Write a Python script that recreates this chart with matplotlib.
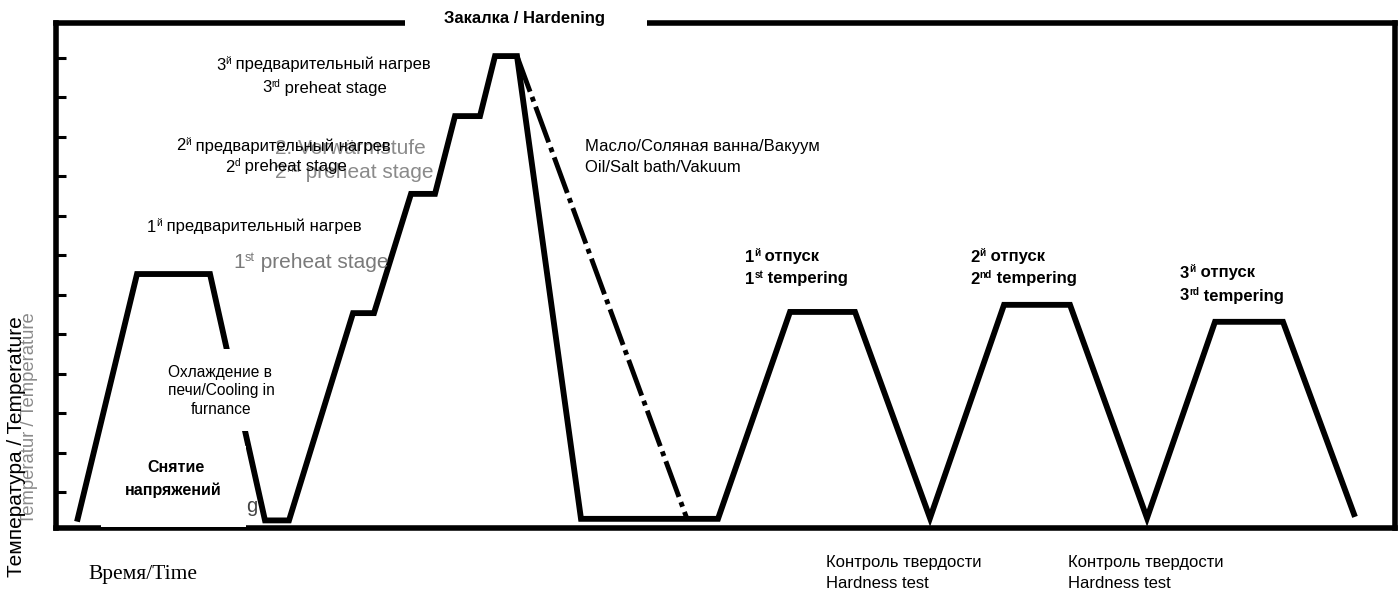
import matplotlib
matplotlib.use("Agg")
import matplotlib.pyplot as plt
import matplotlib.transforms as mtransforms
from matplotlib.patches import Rectangle

# ---------------- data (time units, temperature units) ----------------
time_main = [21, 81, 154, 209, 233, 297, 318, 355, 379, 399, 424, 439, 461,
             525, 662, 734, 799, 874, 948, 1014, 1091, 1159, 1227, 1299]
temp_main = [25, 652, 652, 28, 28, 553, 553, 855, 855, 1052, 1052, 1204, 1204,
             32, 32, 556, 556, 34, 574, 574, 34, 531, 531, 37]
time_alt = [461, 631]          # slower quench (oil / salt bath / vacuum)
temp_alt = [1204, 32]
temp_ticks = [100, 200, 300, 400, 500, 600, 700, 800, 900, 1000, 1100, 1200]

SANS = ['Liberation Sans', 'DejaVu Sans']
SERIF = ['Liberation Serif', 'DejaVu Serif']

W, H = 1400, 592
fig = plt.figure(figsize=(W / 100, H / 100), dpi=100)
fig.patch.set_facecolor('white')
ax = fig.add_axes([56 / W, 1 - 528 / H, (1395 - 56) / W, (528 - 23) / H])

ax.plot(time_main, temp_main, color='black', lw=4.2, solid_joinstyle='miter',
        solid_capstyle='butt', zorder=2)
ax.plot(time_alt, temp_alt, color='black', lw=3.5,
        dashes=(7.8, 1.15, 1.0, 1.15), dash_capstyle='butt', zorder=2)

ax.set_xlim(0, 1339)
ax.set_ylim(8.8, 1287.8)
ax.set_yticks(temp_ticks)
ax.set_yticklabels([])
ax.set_xticks([])
ax.tick_params(axis='y', direction='in', length=7.5, width=2.2, color='black')
for sp in ax.spines.values():
    sp.set_linewidth(4)
    sp.set_color('black')

# pixel-style transform for annotations (x right, y down from top)
T = mtransforms.Affine2D().scale(1 / W, -1 / H).translate(0, 1) + fig.transFigure


def box(x0, y0, x1, y1):
    ax.add_patch(Rectangle((x0, y0), x1 - x0, y1 - y0, transform=T,
                           facecolor='white', edgecolor='none',
                           clip_on=False, zorder=3))


def txt(x, y, s, size=12, weight='normal', color='black', ha='left',
        va='center', family=SANS, z=5, **kw):
    return ax.text(x, y, s, transform=T, fontsize=size, fontweight=weight,
                   color=color, ha=ha, va=va, family=family, zorder=z,
                   clip_on=False, **kw)


def rich(x, y, parts, size=12, weight='normal', color='black', z=5):
    base = txt(x, y, parts[0][0], size=size, weight=weight, color=color, z=z)
    prev = base
    for s, sup in parts[1:]:
        if sup:
            a = ax.annotate(s, xy=(1, 0.42), xycoords=(prev, base),
                            ha='left', va='bottom', fontsize=size * 0.6,
                            fontweight=weight, color=color, family=SANS,
                            zorder=z)
        else:
            a = ax.annotate(s, xy=(1, 0), xycoords=(prev, base),
                            ha='left', va='bottom', fontsize=size,
                            fontweight=weight, color=color, family=SANS,
                            zorder=z)
        prev = a
    return base


# white patches (as in the reference)
box(405, 0, 647, 30)
box(160, 349, 298, 431)
box(101, 446, 246, 527)

# ghost (grey) texts
GH = '#8a8a8a'
txt(275, 148, "2. Vorwärmstufe", size=15, color=GH, z=3.5)
rich(275, 173, [("2", False), ("nd", True), (" preheat stage", False)],
     size=15, color=GH, z=3.5)
rich(233, 262, [("1", False), ("st", True), (" preheat stage", False)],
     size=15, color='#7a7a7a', z=3.5)
txt(246, 506, "g", size=14.5, color='#444444', z=3.5)
txt(30, 418, "Temperatur / Temperature", size=13.3, color=GH, rotation=90,
    ha='center', z=3.5)

# main texts
txt(524, 18, "Закалка / Hardening", size=12, weight='bold', ha='center')
rich(216, 65, [("3", False), ("й", True), (" предварительный нагрев", False)])
rich(262, 88, [("3", False), ("rd", True), (" preheat stage", False)])
rich(176, 146, [("2", False), ("й", True), (" предварительный нагрев", False)])
rich(225, 167, [("2", False), ("d", True), (" preheat stage", False)])
rich(147, 227, [("1", False), ("й", True), (" предварительный нагрев", False)])

txt(585, 146, "Масло/Соляная ванна/Вакуум", size=12)
txt(585, 167, "Oil/Salt bath/Vakuum", size=12)

rich(745, 257, [("1", False), ("й", True), (" отпуск", False)], weight='bold')
rich(745, 279, [("1", False), ("st", True), (" tempering", False)], weight='bold')
rich(970, 257, [("2", False), ("й", True), (" отпуск", False)], weight='bold')
rich(970, 279, [("2", False), ("nd", True), (" tempering", False)], weight='bold')
rich(1180, 273, [("3", False), ("й", True), (" отпуск", False)], weight='bold')
rich(1180, 296, [("3", False), ("rd", True), (" tempering", False)], weight='bold')

txt(220, 372, "Охлаждение в", size=11.2, ha='center')
txt(221, 391, "печи/Cooling in", size=11.2, ha='center')
txt(221, 410, "furnance", size=11.2, ha='center')

txt(176, 467, "Снятие", size=11.5, weight='bold', ha='center')
txt(173, 490, "напряжений", size=11.5, weight='bold', ha='center')

txt(826, 562, "Контроль твердости", size=12)
txt(826, 583, "Hardness test", size=12)
txt(1068, 562, "Контроль твердости", size=12)
txt(1068, 583, "Hardness test", size=12)

txt(88, 575, "Время/Time", size=15.5, family=SERIF)
txt(17, 447, "Температура / Temperature", size=15, rotation=90, ha='center')

fig.savefig("out.png", dpi=100, facecolor='white')
